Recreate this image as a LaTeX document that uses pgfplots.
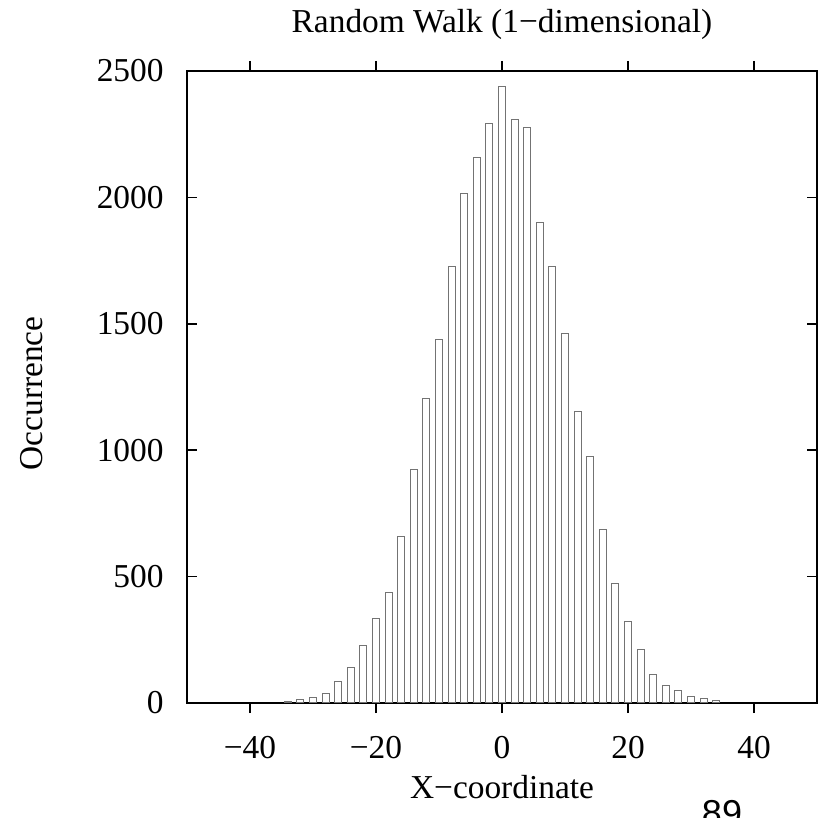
\documentclass[border=0pt]{standalone}
\usepackage{fontspec}
\setmainfont{Liberation Serif}
\newfontfamily\pagefont{Liberation Sans}
\usepackage{pgfplots}
\pgfplotsset{compat=1.18}

% histogram counts, bars at even positions
\pgfplotstableread{
x y
-34 5
-32 12
-30 20
-28 37
-26 87
-24 142
-22 228
-20 335
-18 437
-16 658
-14 922
-12 1203
-10 1437
-8 1727
-6 2015
-4 2158
-2 2293
0 2440
2 2308
4 2275
6 1900
8 1725
10 1463
12 1155
14 976
16 685
18 472
20 321
22 210
24 113
26 70
28 50
30 26
32 18
34 9
}\walk

\begin{document}
\begin{tikzpicture}
\begin{axis}[name=ax, at={(0,0)}, anchor=south west,
 width=315pt, height=316pt, scale only axis,
 xmin=-50, xmax=50, ymin=0, ymax=2500,
 xtick={-40,-20,0,20,40}, xticklabels={−40,−20,0,20,40},
 ytick={0,500,1000,1500,2000,2500}, yticklabels={0,500,1000,1500,2000,2500},
 tick align=inside, major tick length=5pt,
 tick style={black, line width=0.8pt},
 axis line style={black, line width=1pt},
 ticklabel style={font=\fontsize{16.7}{19}\selectfont},
 xticklabel style={anchor=base, yshift=-22.5pt, inner sep=0pt},
 yticklabel style={anchor=east, inner sep=0pt, xshift=-11.5pt},
 title={Random Walk (1−dimensional)},
 title style={font=\fontsize{16.7}{19}\selectfont, at={(axis description cs:0.5,1)}, anchor=base, yshift=13pt, inner sep=0pt},
 xlabel={X−coordinate},
 xlabel style={font=\fontsize{16.7}{19}\selectfont, at={(axis description cs:0.5,0)}, anchor=base, yshift=-47.5pt, inner sep=0pt},
 ylabel={Occurrence},
 ylabel style={font=\fontsize{16.7}{19}\selectfont, at={(axis description cs:0,0.49)}, anchor=base, yshift=72pt, inner sep=0pt},
 ybar, bar width=1.1, bar shift=0pt]
\addplot[draw=black!55, fill=white, line width=0.5pt] table[x=x,y=y] {\walk};
\end{axis}
\node[anchor=base, font=\pagefont\fontsize{18}{20}\selectfont, text=black] at (267.5pt,-61.5pt) {89};
\pgfresetboundingbox
\useasboundingbox (-93.5pt,-57.5pt) rectangle (318.5pt,351.5pt);
\end{tikzpicture}
\end{document}
